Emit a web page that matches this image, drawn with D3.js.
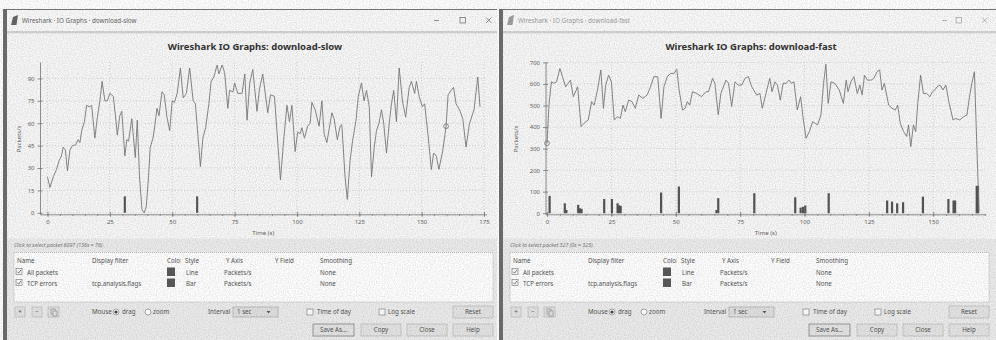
<!DOCTYPE html>
<html>
<head>
<meta charset="utf-8">
<script src="https://cdn.jsdelivr.net/npm/d3@7"></script>
<style>
  body { margin: 0; background: #fff; }
  svg { display: block; font-family: "Noto Sans", "DejaVu Sans", sans-serif; }
</style>
</head>
<body>
<svg id="chart" width="996" height="340"></svg>
<script>
// ---- data ----
const slowTime = [
  0, 1, 2.3, 3.6, 4.7, 5.6, 6.3, 7.2, 8, 9,
  10, 11.3, 12.3, 13, 13.7, 14.8, 15.7, 16.8, 17.7, 19,
  20, 21, 21.9, 23, 24, 25, 26.4, 27.5, 28, 29,
  29.8, 31, 31.8, 32.5, 33.8, 35.2, 36, 36.9, 37.9, 38.8,
  39.6, 40.5, 41.2, 42.3, 43, 43.9, 44.7, 45.9, 46.8, 47.9,
  49, 50, 50.9, 52, 53.3, 54.4, 55.7, 57, 58.4, 59.3,
  61.3, 62.3, 63.4, 64.7, 65.6, 66.7, 68, 68.7, 70, 71,
  72.3, 73, 74.4, 75, 76.3, 78, 79.1, 80, 81.1, 82.3,
  84, 85, 86.3, 88.3, 89.4, 91, 93.4, 94.7, 96, 97,
  98, 99.3, 100.3, 101.3, 102, 103, 104.3, 105.3, 106, 107.3,
  108.9, 110, 110.9, 112, 114, 114.9, 116.2, 117.3, 118, 119.3,
  120.2, 121.3, 122.3, 123.7, 124.6, 125.9, 126.9, 127.9, 129, 129.9,
  131, 131.9, 132.9, 133.9, 134.8, 135.9, 137, 137.9, 138.8, 139.9,
  141, 142.3, 143.6, 145, 145.9, 147.2, 147.9, 149, 150.3, 151.2,
  152.5, 153.9, 154.8, 155.9, 156.9, 158.5, 159.8, 160.6, 161.8, 162.8,
  163.8, 165.2, 166.5, 167.8, 169.1, 170.2, 171, 172.5, 173.4
];
const slowPkts = [
  24, 17, 24, 29, 35, 38, 44, 42, 28, 42,
  45, 45.5, 49, 47, 55, 61, 72, 71, 72, 50,
  64, 75, 88, 75, 75, 80, 78, 61, 52, 65,
  68, 38, 49, 48, 63, 37, 62, 24, 2, 0,
  4, 24, 44, 50, 58, 70, 65, 81, 79, 64,
  55, 75, 74, 80, 97, 77, 80, 97, 75, 73,
  31, 50, 57, 73, 88, 91, 99, 93, 99, 94,
  70, 82, 81, 87, 80, 80, 93, 62, 87, 96,
  68, 83, 93, 67, 79, 78, 22, 49, 72, 61,
  72, 41, 54, 53, 57, 50, 58, 60, 74, 69,
  58, 75, 53, 47, 67, 63, 49, 58, 59, 24,
  9, 35, 48, 62, 78, 87, 75, 82, 71, 24,
  44, 55, 60, 69, 60, 40, 60, 73, 82, 61,
  97, 75, 64, 84, 88, 80, 88, 78, 71, 73,
  53, 29, 40, 38, 29, 42, 58, 79, 82, 84,
  73, 69, 63, 44, 59, 65, 69, 91, 71
];
const slowErrTime = [31, 60];
const slowErrPkts = [11, 11];
const slowMarker = [159.8, 58];
const slowXTicks = [0, 25, 50, 75, 100, 125, 150, 175];
const slowYTicks = [0, 15, 30, 45, 60, 75, 90];

const fastTime = [
  0, 0.8, 1.7, 2.6, 3.7, 5, 6, 7.2, 8.2, 9.1,
  10.2, 11.9, 13.2, 14.3, 16, 17.3, 18.3, 19.6, 20.9, 21.9,
  22.8, 23.9, 25, 26.1, 27.4, 28.5, 29.5, 30.4, 31.7, 33,
  34.3, 35.6, 37.2, 38.9, 40.2, 41.5, 43, 44.3, 45.4, 46.7,
  48, 49.3, 50.4, 51.3, 52.6, 53.6, 54.5, 55.4, 56.5, 58.1,
  60, 61.7, 62.7, 64.3, 65.2, 66.5, 67.5, 69.5, 70.5, 71.7,
  73, 74.3, 75.6, 76.9, 78.2, 79.5, 81.4, 82.7, 83.6, 84.9,
  86.5, 87.4, 88.5, 89.5, 90.6, 91.7, 92.9, 94, 94.9, 95.9,
  97.2, 98.5, 99.4, 100.6, 101.9, 103.2, 104.1, 105.1, 106.4, 107.4,
  108.3, 109.2, 110.3, 111.8, 113.5, 115.1, 116.2, 116.9, 118, 119.2,
  120.5, 121.5, 122.4, 123.3, 124.4, 125.9, 126.9, 128.2, 129.2, 130.1,
  131, 132.7, 134, 135.3, 136.2, 137.2, 138.5, 139.7, 140.4, 141.3,
  142.3, 143.2, 144, 145.1, 146.2, 147.4, 148.7, 149.7, 150.6, 151.5,
  152.6, 153.8, 154.9, 156.2, 157.7, 158.7, 160.3, 161.8, 163.1, 164.1,
  165, 166, 167.8
];
const fastPkts = [
  325, 510, 610, 603, 610, 672, 634, 587, 603, 618,
  541, 587, 402, 417, 433, 518, 502, 572, 665, 487,
  595, 641, 610, 433, 448, 440, 502, 471, 525, 518,
  487, 549, 533, 549, 587, 634, 634, 440, 587, 634,
  649, 649, 668, 572, 479, 487, 518, 502, 564, 556,
  541, 564, 564, 626, 603, 456, 556, 618, 603, 495,
  610, 595, 595, 626, 634, 587, 549, 556, 487, 549,
  626, 564, 610, 595, 525, 603, 603, 618, 603, 610,
  479, 541, 448, 348, 379, 425, 417, 410, 456, 603,
  692, 510, 610, 603, 572, 510, 618, 564, 610, 634,
  556, 595, 549, 641, 618, 618, 626, 657, 665, 572,
  603, 502, 487, 479, 502, 417, 379, 356, 410, 309,
  410, 379, 510, 641, 556, 556, 541, 564, 572, 587,
  595, 572, 595, 510, 433, 440, 433, 448, 456, 541,
  603, 657, 5
];
const fastErrTime = [1, 6.9, 7.5, 12.1, 12.8, 13.4, 22.2, 25.2, 27.4, 28, 28.6, 44.3, 51.2, 65.8, 66.5,
  80.5, 96.4, 98.5, 99.4, 100.3, 109.4, 132.1, 134, 136, 138.3, 146, 155.9, 157.9, 158.5, 166.9, 167.4];
const fastErrPkts = [80, 46, 15, 39, 23, 20, 66, 66, 46, 37, 34, 96, 124, 15, 70,
  93, 74, 26, 30, 36, 93, 59, 54, 46, 51, 77, 66, 59, 59, 127, 127];
const fastMarker = [0, 325];
const fastXTicks = [0, 25, 50, 75, 100, 125, 150];
const fastYTicks = [0, 100, 200, 300, 400, 500, 600, 700];

const tableHeads = ["Name", "Display filter", "Color", "Style", "Y Axis", "Y Field", "Smoothing"];
const graphNames = ["All packets", "TCP errors"];
const graphFilters = ["", "tcp.analysis.flags"];
const graphStyles = ["Line", "Bar"];
const graphYAxis = ["Packets/s", "Packets/s"];
const graphSmoothing = ["None", "None"];

const windows = [
  {dx: 0, width: 494, active: true,
   caption: "Wireshark · IO Graphs · download-slow",
   title: "Wireshark IO Graphs: download-slow",
   status: "Click to select packet 6097 (136s = 76).",
   time: slowTime, pkts: slowPkts, errTime: slowErrTime, errPkts: slowErrPkts, marker: slowMarker,
   xTicks: slowXTicks, yTicks: slowYTicks, xDomain: [-3, 176], yDomain: [-1, 101],
   left: 40, right: 486.5, minX: 434},
  {dx: 496, width: 500, active: false,
   caption: "Wireshark · IO Graphs · download-fast",
   title: "Wireshark IO Graphs: download-fast",
   status: "Click to select packet 327 (0s = 323).",
   time: fastTime, pkts: fastPkts, errTime: fastErrTime, errPkts: fastErrPkts, marker: fastMarker,
   xTicks: fastXTicks, yTicks: fastYTicks, xDomain: [-0.6, 170.5], yDomain: [-5, 702],
   left: 49.5, right: 490, minX: 446}
];

const svg = d3.select("#chart");
const TXT = "#555";
const PLOT_TOP = 62, PLOT_BOT = 214.3;

// scanned-paper grain
let grain = svg.append("defs").append("filter").attr("id", "grain")
  .attr("x", 0).attr("y", 0).attr("width", "100%").attr("height", "100%");
grain.append("feTurbulence").attr("type", "fractalNoise").attr("baseFrequency", 0.85)
  .attr("numOctaves", 1).attr("seed", 4);
grain.append("feColorMatrix").attr("type", "matrix")
  .attr("values", "0 0 0 0 0  0 0 0 0 0  0 0 0 0 0  1 0 0 0 -0.35");
grain.append("feComponentTransfer").append("feFuncA").attr("type", "linear").attr("slope", 0.25);

function checkbox(g, x, y, checked) {
  g.append("rect").attr("x", x).attr("y", y).attr("width", 6).attr("height", 6)
    .attr("fill", "#fff").attr("stroke", "#888").attr("stroke-width", 0.7);
  if (checked) {
    g.append("path").attr("d", `M${x+1.2},${y+3.2} L${x+2.6},${y+4.6} L${x+5},${y+1.4}`)
      .attr("fill", "none").attr("stroke", "#555").attr("stroke-width", 0.8);
  }
}

function button(g, x, y, w, h, label, strong) {
  g.append("rect").attr("x", x).attr("y", y).attr("width", w).attr("height", h)
    .attr("fill", "#e4e4e4").attr("stroke", strong ? "#777" : "#bbb").attr("stroke-width", 0.7);
  if (label) {
    g.append("text").attr("x", x + w / 2).attr("y", y + h / 2 + 2.2).attr("text-anchor", "middle")
      .attr("font-size", 6.2).attr("fill", TXT).text(label);
  }
}

function drawGraph(g, w) {
  let x = d3.scaleLinear().domain(w.xDomain).range([w.left, w.right]);
  let y = d3.scaleLinear().domain(w.yDomain).range([PLOT_BOT, PLOT_TOP]);

  // dotted grid
  g.append("g").selectAll("line").data(w.xTicks).join("line")
    .attr("x1", d => x(d)).attr("x2", d => x(d)).attr("y1", PLOT_TOP).attr("y2", PLOT_BOT)
    .attr("stroke", "#c9c9c9").attr("stroke-width", 0.7).attr("stroke-dasharray", "1,2");
  g.append("g").selectAll("line").data(w.yTicks).join("line")
    .attr("x1", w.left).attr("x2", w.right).attr("y1", d => y(d)).attr("y2", d => y(d))
    .attr("stroke", "#c9c9c9").attr("stroke-width", 0.7).attr("stroke-dasharray", "1,2");

  // axes
  let minor = d3.range(w.xTicks[0], w.xDomain[1], 5);
  let gx = g.append("g").attr("transform", `translate(0,${PLOT_BOT})`)
    .call(d3.axisBottom(x).tickValues(w.xTicks).tickSize(2.5).tickSizeOuter(0).tickPadding(3));
  g.append("g").attr("transform", `translate(0,${PLOT_BOT})`)
    .call(d3.axisBottom(x).tickValues(w.xTicks).tickSize(-2.5).tickSizeOuter(0).tickFormat(""))
    .call(a => a.select(".domain").remove());
  g.append("g").attr("transform", `translate(0,${PLOT_BOT})`)
    .call(d3.axisBottom(x).tickValues(minor).tickSize(1.5).tickSizeOuter(0).tickFormat(""))
    .call(a => a.select(".domain").remove());
  let gy = g.append("g").attr("transform", `translate(${w.left},0)`)
    .call(d3.axisLeft(y).tickValues(w.yTicks).tickSize(2.5).tickSizeOuter(0).tickPadding(3));
  g.append("g").attr("transform", `translate(${w.left},0)`)
    .call(d3.axisLeft(y).tickValues(w.yTicks).tickSize(-2.5).tickSizeOuter(0).tickFormat(""))
    .call(a => a.select(".domain").remove());

  g.selectAll(".domain, .tick line").attr("stroke", "#777").attr("stroke-width", 0.8);
  [gx, gy].forEach(a => a.selectAll("text").attr("font-size", 6).attr("fill", "#666")
    .attr("font-family", "Noto Sans, DejaVu Sans, sans-serif"));

  // error bars
  let bw = x(0.85) - x(0);
  g.append("g").selectAll("rect").data(d3.range(w.errTime.length)).join("rect")
    .attr("x", i => x(w.errTime[i]) - bw / 2).attr("width", bw)
    .attr("y", i => y(w.errPkts[i])).attr("height", i => y(0) - y(w.errPkts[i]))
    .attr("fill", "#555");

  // all packets line
  let line = d3.line().x(i => x(w.time[i])).y(i => y(w.pkts[i]));
  g.append("path").datum(d3.range(w.time.length)).attr("d", line)
    .attr("fill", "none").attr("stroke", "#7a7a7a").attr("stroke-width", 0.9)
    .attr("stroke-linejoin", "round");

  g.append("circle").attr("cx", x(w.marker[0])).attr("cy", y(w.marker[1])).attr("r", 2.4)
    .attr("fill", "none").attr("stroke", "#777").attr("stroke-width", 0.8);

  // axis titles
  g.append("text").attr("transform", `translate(${w.dx ? 22 : 21},139) rotate(-90)`)
    .attr("text-anchor", "middle").attr("font-size", 6).attr("fill", "#666").text("Packets/s");
  g.append("text").attr("x", (w.left + w.right) / 2).attr("y", 234.5).attr("text-anchor", "middle")
    .attr("font-size", 6).attr("fill", "#666").text("Time (s)");
}

function drawWindow(w) {
  let g = svg.append("g").attr("transform", `translate(${w.dx},0)`);
  let W = w.width;

  // frame and title bar
  g.append("rect").attr("x", 3).attr("y", 9).attr("width", W).attr("height", 331).attr("fill", "#ececec");
  g.append("rect").attr("x", 3).attr("y", 9).attr("width", W).attr("height", 22).attr("fill", "#fafafa");
  g.append("rect").attr("x", 3).attr("y", 31).attr("width", W).attr("height", 2.5).attr("fill", "#d4d4d4");
  g.append("rect").attr("x", 7).attr("y", 33.5).attr("width", W - 4).attr("height", 205).attr("fill", "#f8f8f8");
  g.append("line").attr("x1", 3).attr("x2", 3 + W).attr("y1", 9.5).attr("y2", 9.5)
    .attr("stroke", "#777").attr("stroke-width", 1);
  g.append("rect").attr("x", 3).attr("y", 9).attr("width", 4).attr("height", 331).attr("fill", "#6e6e6e");

  let capCol = w.active ? "#666" : "#a0a0a0";
  g.append("path").attr("d", "M11,25 L13,17 L18,15 L16.5,25 Z").attr("fill", capCol);
  g.append("text").attr("x", 22).attr("y", 23).attr("font-size", 6.3).attr("fill", capCol).text(w.caption);
  g.append("line").attr("x1", w.minX).attr("x2", w.minX + 5).attr("y1", 20.5).attr("y2", 20.5)
    .attr("stroke", capCol).attr("stroke-width", 0.7);
  g.append("rect").attr("x", 460).attr("y", 17.5).attr("width", 5.5).attr("height", 5.5)
    .attr("fill", "none").attr("stroke", capCol).attr("stroke-width", 0.7);
  g.append("path").attr("d", "M486,17.5 L491.5,23 M491.5,17.5 L486,23")
    .attr("stroke", capCol).attr("stroke-width", 0.7);

  g.append("text").attr("x", 255).attr("y", 50).attr("text-anchor", "middle")
    .attr("font-size", 9.5).attr("font-weight", "bold").attr("fill", "#333").text(w.title);

  drawGraph(g, w);

  // status line
  g.append("text").attr("x", 14).attr("y", 247).attr("font-size", 5.3).attr("font-style", "italic")
    .attr("fill", "#777").text(w.status);

  // graph table
  g.append("rect").attr("x", 14).attr("y", 252.5).attr("width", 479).attr("height", 49.5)
    .attr("fill", "#fff").attr("stroke", "#aaa").attr("stroke-width", 0.7).attr("stroke-dasharray", "1,1");
  let colX = [17, 92, 167, 185, 226, 275, 320];
  g.append("clipPath").attr("id", "colclip" + w.dx).append("rect")
    .attr("x", 160).attr("y", 254).attr("width", 20.5).attr("height", 12);
  tableHeads.forEach((h, i) => {
    let t = g.append("text").attr("x", colX[i]).attr("y", 263).attr("font-size", 6.2).attr("fill", TXT).text(h);
    if (h === "Color") t.attr("clip-path", `url(#colclip${w.dx})`);
  });
  graphNames.forEach((name, r) => {
    let yy = 274.5 + r * 11;
    checkbox(g, 16, yy - 6, true);
    g.append("text").attr("x", 27).attr("y", yy).attr("font-size", 6.2).attr("fill", TXT).text(name);
    g.append("text").attr("x", 92).attr("y", yy).attr("font-size", 6.2).attr("fill", TXT).text(graphFilters[r]);
    g.append("rect").attr("x", 167).attr("y", yy - 7).attr("width", 8).attr("height", 8.5).attr("fill", "#5a5a5a");
    g.append("text").attr("x", 186).attr("y", yy).attr("font-size", 6.2).attr("fill", TXT).text(graphStyles[r]);
    g.append("text").attr("x", 224).attr("y", yy).attr("font-size", 6.2).attr("fill", TXT).text(graphYAxis[r]);
    g.append("text").attr("x", 320).attr("y", yy).attr("font-size", 6.2).attr("fill", TXT).text(graphSmoothing[r]);
  });

  // controls row
  button(g, 15, 307, 10, 10, "+");
  button(g, 32, 307, 10, 10, "−");
  button(g, 48, 307, 11, 10, "");
  g.append("rect").attr("x", 51).attr("y", 309).attr("width", 4).attr("height", 5).attr("fill", "none").attr("stroke", "#888").attr("stroke-width", 0.6);
  g.append("rect").attr("x", 53).attr("y", 311).attr("width", 4).attr("height", 5).attr("fill", "#e4e4e4").attr("stroke", "#888").attr("stroke-width", 0.6);

  g.append("text").attr("x", 92).attr("y", 314).attr("font-size", 6.2).attr("fill", TXT).text("Mouse");
  g.append("circle").attr("cx", 116).attr("cy", 312).attr("r", 3).attr("fill", "#fff").attr("stroke", "#777").attr("stroke-width", 0.6);
  g.append("circle").attr("cx", 116).attr("cy", 312).attr("r", 1.6).attr("fill", "#444");
  g.append("text").attr("x", 122).attr("y", 314).attr("font-size", 6.2).attr("fill", TXT).text("drag");
  g.append("circle").attr("cx", 148).attr("cy", 312).attr("r", 3).attr("fill", "#fff").attr("stroke", "#777").attr("stroke-width", 0.6);
  g.append("text").attr("x", 153).attr("y", 314).attr("font-size", 6.2).attr("fill", TXT).text("zoom");

  g.append("text").attr("x", 208).attr("y", 314).attr("font-size", 6.2).attr("fill", TXT).text("Interval");
  g.append("rect").attr("x", 233).attr("y", 307).attr("width", 45).attr("height", 10)
    .attr("fill", "#e0e0e0").attr("stroke", "#aaa").attr("stroke-width", 0.7);
  g.append("text").attr("x", 237).attr("y", 314).attr("font-size", 6.2).attr("fill", TXT).text("1 sec");
  g.append("path").attr("d", "M266.5,311 L270.5,311 L268.5,313.5 Z").attr("fill", "#555");

  checkbox(g, 307, 309, false);
  g.append("text").attr("x", 317).attr("y", 314).attr("font-size", 6.2).attr("fill", TXT).text("Time of day");
  checkbox(g, 379, 309, false);
  g.append("text").attr("x", 388).attr("y", 314).attr("font-size", 6.2).attr("fill", TXT).text("Log scale");
  button(g, 453, 306, 40, 12, "Reset");

  button(g, 313, 324, 41, 12, "Save As...", true);
  button(g, 361, 324, 40, 12, "Copy");
  button(g, 407, 324, 40, 12, "Close");
  button(g, 453, 324, 40, 12, "Help");
}

windows.forEach(drawWindow);

// grain overlay on top of everything, like the scanned original
svg.append("rect").attr("x", 0).attr("y", 0).attr("width", 996).attr("height", 340)
  .attr("filter", "url(#grain)").attr("pointer-events", "none");
</script>
</body>
</html>
